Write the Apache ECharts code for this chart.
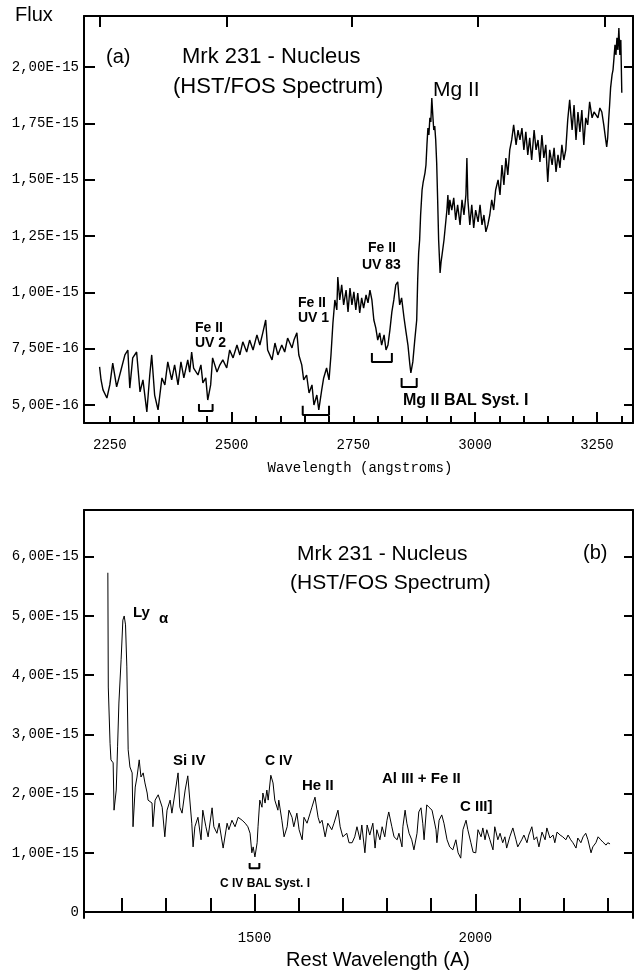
<!DOCTYPE html>
<html>
<head>
<meta charset="utf-8">
<title>Mrk 231 - Nucleus (HST/FOS Spectrum)</title>
<script src="https://cdn.jsdelivr.net/npm/echarts@6/dist/echarts.min.js"></script>
<style>
  html, body { margin: 0; padding: 0; background: #fff; }
  #chart { width: 634px; height: 979px; }
</style>
</head>
<body>
<div id="chart"></div>
<script>
// Flux values are in units of 1e-15 erg/s/cm2/A; wavelengths in angstroms.

// Panel (a): observed-frame near-UV spectrum
const nuvSpectrum = [
  [2229,0.669],[2232,0.611],[2236,0.567],[2244,0.531],[2250,0.589],[2256,0.686],[2264,0.580],[2273,0.655],
  [2281,0.722],[2287,0.744],[2291,0.575],[2297,0.709],[2305,0.735],[2312,0.558],[2318,0.611],[2326,0.469],
  [2332,0.633],[2336,0.722],[2342,0.544],[2349,0.478],[2357,0.620],[2363,0.589],[2369,0.691],[2377,0.611],
  [2383,0.678],[2390,0.589],[2396,0.691],[2402,0.620],[2410,0.700],[2414,0.646],[2418,0.735],[2422,0.664],
  [2431,0.633],[2437,0.678],[2441,0.598],[2447,0.620],[2451,0.522],[2457,0.589],[2461,0.709],[2470,0.646],
  [2476,0.678],[2482,0.700],[2490,0.664],[2496,0.744],[2503,0.709],[2511,0.766],[2517,0.722],[2523,0.780],
  [2531,0.735],[2537,0.788],[2544,0.744],[2552,0.811],[2558,0.766],[2564,0.820],[2570,0.877],[2574,0.744],
  [2583,0.700],[2589,0.775],[2595,0.722],[2603,0.766],[2609,0.735],[2615,0.797],[2624,0.753],[2628,0.788],
  [2634,0.820],[2638,0.722],[2644,0.678],[2648,0.611],[2654,0.633],[2659,0.553],[2665,0.589],[2669,0.500],
  [2675,0.544],[2679,0.478],[2685,0.567],[2689,0.620],[2695,0.664],[2700,0.611],[2704,0.722],[2708,0.864],
  [2712,0.966],[2716,0.922],[2718,1.068],[2722,0.966],[2726,1.033],[2730,0.944],[2735,1.010],[2739,0.913],
  [2743,1.019],[2747,0.944],[2751,1.002],[2755,0.922],[2759,0.997],[2763,0.908],[2767,0.975],[2771,0.930],
  [2776,0.988],[2780,0.953],[2784,1.010],[2788,0.966],[2792,0.877],[2796,0.842],[2800,0.788],[2804,0.820],
  [2808,0.766],[2813,0.811],[2817,0.744],[2821,0.766],[2825,0.833],[2829,0.913],[2833,0.966],[2837,1.033],
  [2841,1.046],[2845,0.944],[2849,0.975],[2854,0.886],[2858,0.824],[2862,0.766],[2866,0.678],[2868,0.642],
  [2872,0.691],[2876,0.788],[2880,0.877],[2882,1.055],[2884,1.175],[2886,1.232],[2888,1.343],[2891,1.454],
  [2893,1.485],[2897,1.530],[2899,1.565],[2901,1.654],[2903,1.729],[2905,1.698],[2907,1.774],[2909,1.756],
  [2911,1.862],[2913,1.787],[2915,1.720],[2917,1.738],[2919,1.676],[2921,1.574],[2923,1.410],[2925,1.232],
  [2928,1.086],[2930,1.135],[2932,1.166],[2936,1.232],[2940,1.321],[2942,1.365],[2944,1.432],[2946,1.343],
  [2948,1.410],[2952,1.365],[2956,1.419],[2960,1.321],[2964,1.388],[2969,1.299],[2973,1.410],[2977,1.343],
  [2981,1.432],[2983,1.596],[2985,1.410],[2989,1.299],[2993,1.388],[2997,1.286],[3001,1.365],[3006,1.312],
  [3010,1.388],[3014,1.299],[3018,1.343],[3022,1.268],[3026,1.299],[3030,1.343],[3034,1.410],[3038,1.365],
  [3042,1.454],[3047,1.499],[3051,1.432],[3055,1.565],[3059,1.476],[3063,1.596],[3067,1.521],[3071,1.632],
  [3075,1.676],[3079,1.743],[3084,1.654],[3088,1.720],[3092,1.676],[3096,1.729],[3100,1.632],[3104,1.712],
  [3108,1.610],[3112,1.685],[3116,1.587],[3121,1.720],[3125,1.632],[3129,1.676],[3133,1.578],[3137,1.698],
  [3141,1.596],[3145,1.654],[3149,1.490],[3153,1.632],[3158,1.565],[3162,1.641],[3166,1.534],[3170,1.610],
  [3174,1.552],[3178,1.654],[3182,1.587],[3186,1.632],[3190,1.765],[3194,1.854],[3199,1.720],[3203,1.831],
  [3207,1.676],[3211,1.800],[3215,1.712],[3219,1.809],[3223,1.654],[3227,1.774],[3231,1.743],[3235,1.845],
  [3240,1.774],[3244,1.800],[3248,1.787],[3252,1.774],[3256,1.818],[3260,1.800],[3264,1.743],[3268,1.676],
  [3270,1.645],[3272,1.685],[3274,1.765],[3276,1.831],[3278,1.907],[3281,1.965],[3283,1.987],[3285,2.040],
  [3287,2.098],[3289,2.053],[3291,2.129],[3293,2.075],[3295,2.173],[3297,2.053],[3299,2.120],[3301,1.885]
];

// Panel (b): rest-frame far-UV spectrum
const fuvSpectrum = [
  [1168,5.73],[1169,3.80],[1173,2.85],[1175,2.57],[1180,2.52],[1182,1.72],[1187,2.06],[1190,2.79],
  [1193,3.53],[1198,4.26],[1202,4.93],[1205,5.00],[1208,4.85],[1211,4.14],[1214,2.74],[1218,2.45],
  [1223,2.35],[1225,1.44],[1230,2.11],[1234,2.28],[1239,2.57],[1243,2.28],[1248,2.35],[1252,2.18],
  [1257,2.01],[1259,1.89],[1268,1.84],[1270,1.44],[1275,1.89],[1282,1.98],[1291,1.77],[1297,1.27],
  [1302,1.72],[1309,1.89],[1313,1.67],[1320,2.01],[1327,2.35],[1331,1.77],[1336,1.67],[1343,2.06],
  [1349,2.30],[1358,1.50],[1361,1.10],[1365,1.44],[1372,1.60],[1379,1.22],[1383,1.72],[1390,1.44],
  [1395,1.27],[1404,1.76],[1408,1.44],[1415,1.33],[1420,1.50],[1429,1.08],[1438,1.50],[1442,1.39],
  [1449,1.55],[1456,1.44],[1463,1.60],[1472,1.55],[1479,1.50],[1485,1.44],[1490,1.33],[1494,1.00],
  [1497,1.10],[1501,0.93],[1506,1.17],[1508,1.44],[1512,1.89],[1517,1.77],[1519,2.01],[1524,1.84],
  [1528,2.06],[1531,1.89],[1537,2.31],[1542,2.18],[1546,1.89],[1553,1.72],[1555,1.89],[1562,1.55],
  [1567,1.27],[1574,1.44],[1578,1.72],[1585,1.60],[1589,1.44],[1596,1.67],[1601,1.39],[1608,1.22],
  [1612,1.60],[1619,1.50],[1626,1.67],[1630,1.77],[1637,1.94],[1644,1.60],[1648,1.50],[1653,1.55],
  [1660,1.27],[1666,1.50],[1675,1.39],[1680,1.50],[1689,1.72],[1694,1.44],[1700,1.27],[1709,1.33],
  [1714,1.17],[1721,1.17],[1727,1.27],[1732,1.44],[1739,1.22],[1743,1.47],[1750,1.00],[1755,1.47],
  [1761,1.30],[1768,1.50],[1773,1.08],[1777,1.39],[1784,1.22],[1789,1.44],[1795,1.27],[1800,1.55],
  [1804,1.69],[1811,1.44],[1816,1.27],[1823,1.22],[1827,1.33],[1834,1.10],[1836,1.44],[1841,1.72],
  [1845,1.50],[1850,1.33],[1856,1.22],[1861,1.05],[1868,1.33],[1872,1.69],[1877,1.76],[1881,1.50],
  [1884,1.22],[1890,1.81],[1895,1.77],[1902,1.72],[1906,1.72],[1911,1.39],[1913,1.17],[1918,1.55],
  [1924,1.64],[1929,1.50],[1936,1.22],[1942,1.10],[1949,1.05],[1956,1.22],[1961,1.00],[1967,0.91],
  [1972,1.39],[1979,1.55],[1983,1.39],[1990,1.17],[1995,1.01],[2001,1.00],[2006,1.39],[2013,1.27],
  [2017,1.42],[2022,1.22],[2026,1.39],[2033,1.22],[2040,1.05],[2044,1.44],[2051,1.22],[2056,1.33],
  [2062,1.17],[2067,1.27],[2071,1.08],[2078,1.27],[2085,1.42],[2092,1.22],[2096,1.10],[2105,1.22],
  [2110,1.30],[2117,1.17],[2121,1.30],[2128,1.44],[2133,1.22],[2139,1.27],[2144,1.10],[2151,1.35],
  [2158,1.22],[2162,1.42],[2169,1.25],[2176,1.30],[2180,1.17],[2185,1.35],[2192,1.30],[2198,1.27],
  [2205,1.22],[2210,1.30],[2216,1.22],[2221,1.17],[2228,1.08],[2232,1.25],[2239,1.17],[2244,1.27],
  [2250,1.33],[2255,1.22],[2262,1.00],[2266,1.10],[2273,1.17],[2278,1.27],[2284,1.22],[2289,1.18],
  [2296,1.13],[2300,1.17],[2305,1.15]
];

// Absorption troughs marked with brackets: [start, end, top flux, bottom flux]
const nuvTroughs = [
  [2433, 2461, 0.504, 0.473],   // Fe II UV 2
  [2646, 2700, 0.496, 0.456],   // Fe II UV 1
  [2788, 2829, 0.731, 0.691],   // Fe II UV 83
  [2849, 2880, 0.620, 0.580]    // Mg II BAL system I
];
const fuvTroughs = [
  [1489, 1511, 0.83, 0.74]      // C IV BAL system I
];

// Axis ticks
const nuvFluxTicks = [0.5, 0.75, 1.0, 1.25, 1.5, 1.75, 2.0];
const fuvFluxTicks = [0, 1, 2, 3, 4, 5, 6];
const nuvWaveLabels = [2250, 2500, 2750, 3000, 3250];
const nuvWaveMinor = [2250, 2300, 2350, 2400, 2450, 2500, 2550, 2600, 2650, 2700, 2750, 2800,
                      2850, 2900, 2950, 3000, 3050, 3100, 3150, 3200, 3250, 3300];
const nuvWaveMajor = [2500, 3000, 3250];
const nuvTopTicks = [2229, 2490, 2747, 3006, 3266];
const fuvWaveLabels = [1500, 2000];
const fuvWaveMinor = [1200, 1300, 1400, 1500, 1600, 1700, 1800, 1900, 2000, 2100, 2200, 2300];
const fuvWaveMajor = [1500, 2000];

const MONO = '"Liberation Mono", "DejaVu Sans Mono", monospace';
const SANS = '"Liberation Sans", Arial, sans-serif';

function sciLabel(v) {
  if (v === 0) return '0';
  const s = (v * 1e-15).toExponential(2);
  const parts = s.split('e');
  const sign = parts[1][0] === '-' ? '-' : '+';
  const exp = parts[1].replace(/^[+-]/, '').padStart(2, '0');
  return parts[0].replace('.', ',') + 'E' + sign + exp;
}
function plainLabel(v) { return String(v); }

const axisLine = { show: true, lineStyle: { color: '#000', width: 2 } };
const noLine = { show: false };
const tickStyle = { color: '#000', width: 2 };

function bracketSeries(list, xi, yi) {
  return list.map(b => ({
    type: 'line',
    xAxisIndex: xi, yAxisIndex: yi,
    data: [[b[0], b[2]], [b[0], b[3]], [b[1], b[3]], [b[1], b[2]]],
    showSymbol: false, silent: true,
    lineStyle: { color: '#000', width: 2 },
    animation: false
  }));
}

const NUV_X = [2197, 3324];
const FUV_X = [1114, 2357];

const option = {
  backgroundColor: '#fff',
  animation: false,
  grid: [
    { left: 84, top: 16, width: 549, height: 407 },
    { left: 84, top: 510, width: 549, height: 408 }
  ],
  xAxis: [
    { // 0: panel (a) bottom, minor ticks + labels
      type: 'value', gridIndex: 0, position: 'bottom', min: NUV_X[0], max: NUV_X[1],
      axisLine: axisLine, splitLine: { show: false },
      axisTick: { show: true, inside: true, length: 7, lineStyle: tickStyle, customValues: nuvWaveMinor },
      axisLabel: { customValues: nuvWaveLabels, formatter: plainLabel, margin: 15, color: '#000', fontFamily: MONO, fontSize: 14 }
    },
    { // 1: panel (a) bottom, tall ticks
      type: 'value', gridIndex: 0, position: 'bottom', min: NUV_X[0], max: NUV_X[1],
      axisLine: noLine, splitLine: { show: false },
      axisTick: { show: true, inside: true, length: 11, lineStyle: tickStyle, customValues: nuvWaveMajor },
      axisLabel: { show: false }
    },
    { // 2: panel (a) top frame
      type: 'value', gridIndex: 0, position: 'top', min: NUV_X[0], max: NUV_X[1],
      axisLine: axisLine, splitLine: { show: false },
      axisTick: { show: true, inside: true, length: 11, lineStyle: tickStyle, customValues: nuvTopTicks },
      axisLabel: { show: false }
    },
    { // 3: panel (b) bottom, minor ticks + labels
      type: 'value', gridIndex: 1, position: 'bottom', min: FUV_X[0], max: FUV_X[1],
      axisLine: axisLine, splitLine: { show: false },
      axisTick: { show: true, inside: true, length: 14, lineStyle: tickStyle, customValues: fuvWaveMinor },
      axisLabel: { customValues: fuvWaveLabels, formatter: plainLabel, margin: 13, color: '#000', fontFamily: MONO, fontSize: 14 }
    },
    { // 4: panel (b) bottom, tall ticks
      type: 'value', gridIndex: 1, position: 'bottom', min: FUV_X[0], max: FUV_X[1],
      axisLine: noLine, splitLine: { show: false },
      axisTick: { show: true, inside: true, length: 18, lineStyle: tickStyle, customValues: fuvWaveMajor },
      axisLabel: { show: false }
    },
    { // 5: panel (b) top frame
      type: 'value', gridIndex: 1, position: 'top', min: FUV_X[0], max: FUV_X[1],
      axisLine: axisLine, splitLine: { show: false },
      axisTick: { show: false }, axisLabel: { show: false }
    }
  ],
  yAxis: [
    { // 0: panel (a) left
      type: 'value', gridIndex: 0, position: 'left', min: 0.42, max: 2.226,
      axisLine: axisLine, splitLine: { show: false },
      axisTick: { show: true, inside: true, length: 11, lineStyle: tickStyle, customValues: nuvFluxTicks },
      axisLabel: { customValues: nuvFluxTicks, formatter: sciLabel, margin: 5, color: '#000', fontFamily: MONO, fontSize: 14 }
    },
    { // 1: panel (a) right
      type: 'value', gridIndex: 0, position: 'right', min: 0.42, max: 2.226,
      axisLine: axisLine, splitLine: { show: false },
      axisTick: { show: true, inside: true, length: 9, lineStyle: tickStyle, customValues: nuvFluxTicks },
      axisLabel: { show: false }
    },
    { // 2: panel (b) left
      type: 'value', gridIndex: 1, position: 'left', min: -0.101, max: 6.79,
      axisLine: axisLine, splitLine: { show: false },
      axisTick: { show: true, inside: true, length: 10, lineStyle: tickStyle, customValues: fuvFluxTicks },
      axisLabel: { customValues: fuvFluxTicks, formatter: sciLabel, margin: 5, color: '#000', fontFamily: MONO, fontSize: 14 }
    },
    { // 3: panel (b) right
      type: 'value', gridIndex: 1, position: 'right', min: -0.101, max: 6.79,
      axisLine: axisLine, splitLine: { show: false },
      axisTick: { show: true, inside: true, length: 9, lineStyle: tickStyle, customValues: fuvFluxTicks },
      axisLabel: { show: false }
    }
  ],
  series: [
    {
      type: 'line', xAxisIndex: 0, yAxisIndex: 0, data: nuvSpectrum,
      showSymbol: false, silent: true, lineStyle: { color: '#000', width: 1.4 }
    },
    {
      type: 'line', xAxisIndex: 3, yAxisIndex: 2, data: fuvSpectrum,
      showSymbol: false, silent: true, lineStyle: { color: '#000', width: 1 }
    }
  ].concat(bracketSeries(nuvTroughs, 0, 0), bracketSeries(fuvTroughs, 3, 2)),
  graphic: []
};

function txt(text, x, y, font, align) {
  return {
    type: 'text', silent: true,
    style: { text: text, x: x, y: y, font: font, fill: '#000',
             textAlign: align || 'left', textVerticalAlign: 'middle' }
  };
}

option.graphic = [
  // panel (a)
  txt('Flux', 15, 15, '20px ' + SANS),
  txt('(a)', 106, 57, '20px ' + SANS),
  txt('Mrk 231 - Nucleus', 182, 57, '22px ' + SANS),
  txt('(HST/FOS Spectrum)', 173, 87, '22px ' + SANS),
  txt('Mg II', 433, 90, '21px ' + SANS),
  txt('Fe II', 195, 328, 'bold 14px ' + SANS),
  txt('UV 2', 195, 343, 'bold 14px ' + SANS),
  txt('Fe II', 298, 303, 'bold 14px ' + SANS),
  txt('UV 1', 298, 318, 'bold 14px ' + SANS),
  txt('Fe II', 368, 248, 'bold 14px ' + SANS),
  txt('UV 83', 362, 265, 'bold 14px ' + SANS),
  txt('Mg II BAL Syst. I', 403, 401, 'bold 16px ' + SANS),
  txt('Wavelength (angstroms)', 360, 468, '14px ' + MONO, 'center'),
  // panel (b)
  txt('Mrk 231 - Nucleus', 297, 554, '21px ' + SANS),
  txt('(HST/FOS Spectrum)', 290, 583, '21px ' + SANS),
  txt('(b)', 583, 553, '20px ' + SANS),
  txt('Ly', 133, 613, 'bold 15px ' + SANS),
  txt('\u03B1', 159, 619, 'bold 15px ' + SANS),
  txt('Si IV', 173, 761, 'bold 15px ' + SANS),
  txt('C IV', 265, 761, 'bold 14px ' + SANS),
  txt('He II', 302, 786, 'bold 15px ' + SANS),
  txt('Al III + Fe II', 382, 779, 'bold 15px ' + SANS),
  txt('C III]', 460, 807, 'bold 15px ' + SANS),
  txt('C IV BAL Syst. I', 220, 884, 'bold 12px ' + SANS),
  txt('Rest Wavelength (A)', 378, 960, '20px ' + SANS, 'center')
];

const chart = echarts.init(document.getElementById('chart'), null, { renderer: 'canvas' });
chart.setOption(option);
</script>
</body>
</html>
